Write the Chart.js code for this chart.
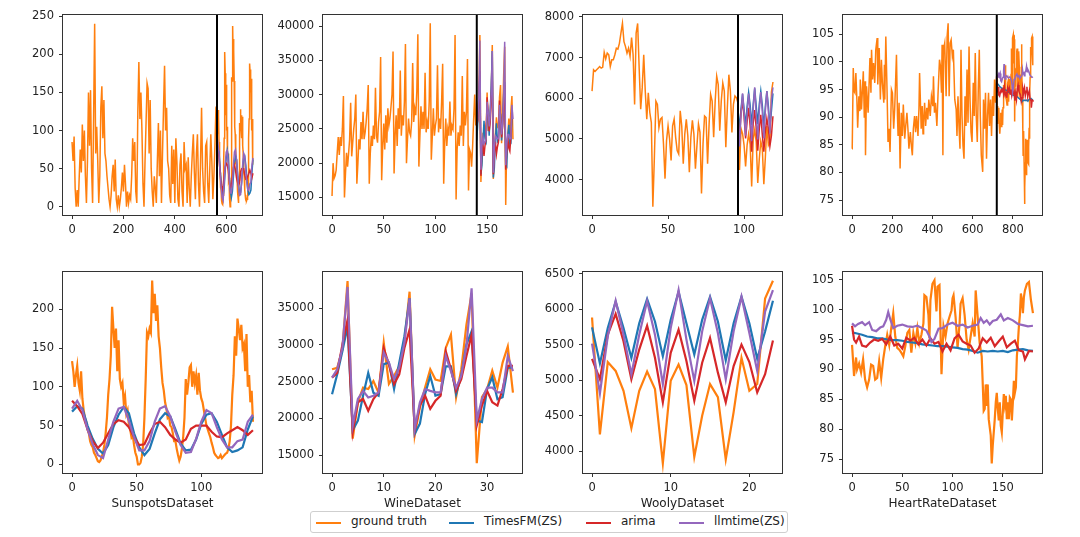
<!DOCTYPE html>
<html>
<head>
<meta charset="utf-8">
<script src="https://cdn.jsdelivr.net/npm/chart.js@4.4.1/dist/chart.umd.min.js"></script>
<style>
  body { margin: 0; background: #fff; width: 1080px; height: 537px; position: relative; overflow: hidden; font-family: "DejaVu Sans", sans-serif; }
  canvas { position: absolute; }
  #legend { position: absolute; left: 310px; top: 511px; width: 476px; height: 20px; border: 1px solid #cfcfcf; border-radius: 3px; background: #fff; font-size: 12px; color: #222; }
  #legend .ln { position: absolute; top: 10px; width: 25px; height: 0; border-top: 2px solid; }
  #legend .tx { position: absolute; top: 2px; white-space: nowrap; }
</style>
</head>
<body>
<div id="legend">
  <div class="ln" style="left:5px;border-color:#ff7f0e"></div><div class="tx" style="left:40px">ground truth</div>
  <div class="ln" style="left:138px;border-color:#1f77b4"></div><div class="tx" style="left:173px">TimesFM(ZS)</div>
  <div class="ln" style="left:275px;border-color:#d62728"></div><div class="tx" style="left:310px">arima</div>
  <div class="ln" style="left:368px;border-color:#9467bd"></div><div class="tx" style="left:403px">llmtime(ZS)</div>
</div>
<script>
// ---- Sunspots ----
const sunTrainStep = 4;
const sunTrain = [
  85,60,92,25,0,22,0,40,75,45,
  108,60,100,40,5,60,150,80,153,50,
  5,120,240,70,105,60,5,40,130,158,
  90,140,70,60,40,25,10,0,15,40,
  55,20,62,10,0,15,0,10,25,45,
  20,55,30,0,20,5,15,10,40,90,
  60,85,20,5,125,190,115,150,100,30,
  0,60,110,162,155,70,140,50,20,0,
  40,25,5,60,110,40,100,5,70,130,
  185,100,130,60,50,15,5,80,30,75,
  5,90,60,10,0,55,70,20,0,85,
  50,55,5,65,25,0,40,70,95,45,
  10,70,95,30,0,60,130,50,20,5,
  80,85,30,5,50,95,60,10,40,80,
  130
];
const sunSplit = 564;
const sunTruth = [
  133,120,100,115,127,105,95,120,85,70,
  60,55,45,40,30,25,22,15,12,8,
  4,3,5,10,15,25,40,60,90,110,
  140,203,175,150,175,120,160,110,100,105,
  80,88,65,70,50,45,35,38,25,15,
  10,0,0,2,10,25,60,110,170,165,
  175,170,237,195,220,185,205,165,150,125,
  105,95,80,72,60,62,50,48,40,30,
  30,20,12,5,10,20,35,60,110,90,
  105,125,128,100,120,105,115,90,118,95,
  85,80,70,60,50,45,40,35,28,22,
  15,12,10,8,9,12,8,10,12,14,
  15,20,30,50,90,115,165,140,188,175,
  160,180,150,155,120,168,100,115,80,95,
  55
];
const sunFcStep = 4;
const sunTimesFM = [68,75,72,50,33,20,14,25,48,64,74,66,40,22,12,20,40,58,66,62,45,27,18,19,32,52,64,66,55,38,22,16,18,22,45,62];
const sunArima   = [82,75,65,45,30,21,28,40,52,57,55,48,35,25,26,40,52,55,48,38,32,28,32,46,50,50,50,42,36,35,40,44,48,44,38,44];
const sunLlmtime = [72,82,70,45,26,12,8,32,55,72,74,56,35,18,18,30,55,72,75,62,42,25,15,16,33,55,70,66,48,32,22,22,30,32,55,64];

// ---- Wine ----
const wineTrain = [
  15200,20000,17800,18200,19000,21500,23800,21200,23800,22500,25000,29800,
  15000,18500,21500,19500,21400,23500,28800,21000,23000,25000,26500,30000,
  17000,20000,23500,22000,26000,23500,27500,23500,24500,26000,28000,31400,
  17000,21500,24000,22500,25500,23500,31000,24000,23000,26000,27500,35500,
  17500,22500,25800,22000,27000,23000,28000,25500,26500,28200,30000,36300,
  18500,24000,27000,22500,28000,25000,33500,24000,27000,25500,29000,37400,
  20000,23500,26500,24500,24000,26000,34600,26000,28000,27000,30500,38800,
  19500,24000,28300,25000,27500,25000,33200,24500,26000,25000,29000,40400,
  20500,24000,28000,24000,25500,26500,34300,24500,26500,25000,29000,34500,
  17000,23000,26500,22500,25000,24000,29000,24000,25500,25000,28000,38700,
  14700,22000,24500,22500,25500,24000,32700,22500,27500,25500,27500,35200,
  16000,22000,21500,19500,22500,26500,30000,25500
];
const wineSplit = 140;
const wineTruth   = [26700,26900,29400,38700,17250,22200,24200,24000,25100,23500,30300,24700,25800,27100,30500,37250,17700,21500,24200,26700,25300,25100,29600,31400,22900,26700,32750,37000,13900,22900,24000,26500,24200,27600,29800,23500];
const wineTimesFM = [23300,26000,29150,32500,18400,19700,23100,26200,23500,23100,27400,27600,24000,27600,31200,36350,17900,19300,23300,25800,23100,23300,27100,27100,23300,25800,30050,31850,19700,19500,24000,25600,22600,22900,26900,26900];
const wineArima   = [25550,26200,30050,33400,18150,22200,22650,21050,22650,23550,29600,27350,24650,26000,29600,32100,18400,21750,23100,21300,22400,23100,29150,26700,23750,25350,28500,31400,19050,21750,23750,22200,21750,24000,27150,27150];
const wineLlmtime = [25550,26700,29600,37900,19050,22650,23750,22850,23100,23550,28950,27600,25350,26900,30300,36350,18600,22200,24000,23750,23550,23550,28500,26450,24200,25800,29850,37700,19700,22650,24200,24200,23550,23550,28500,26450];

// ---- Wooly ----
const woolyTrain = [
  6175,6700,6660,6700,6740,6780,6740,6760,7130,6970,
  7110,7070,6780,6945,6945,7070,7230,7210,7350,7600,
  7840,7390,7270,7110,7230,7030,7490,7070,5850,7600,
  7840,6740,5730,6255,7070,6175,5485,6135,5650,5400,
  3335,4550,5930,5850,5280,5485,5525,4875,4025,4960,
  5320,5000,4470,5320,5485,5040,4715,4630,5690,5320,
  4390,5120,5485,5080,4185,5040,5460,5120,4270,4835,
  5365,5160,3660,4875,5565,5525,4390,5365,6095,5930,
  5040,5930,6540,6335,5200,5930,6375,6175,4795,5770,
  6580,6175,5160,5850,6055,6010
];
const woolySplit = 96;
const woolyTruth   = [5882,4237,5255,5130,4850,4325,4850,5120,4875,3830,4990,5220,4930,3920,4500,4945,4760,3885,4550,5315,4850,4945,6150,6400];
const woolyTimesFM = [5743,5236,5733,6105,5733,5315,5800,6142,5826,5338,5850,6245,5800,5362,5850,6175,5826,5280,5800,6175,5800,5300,5687,6119];
const woolyArima   = [5300,5013,5640,5933,5547,5013,5431,5766,5315,4688,5385,5710,5269,4710,5245,5594,5106,4688,5199,5501,5255,4827,5083,5557];
const woolyLlmtime = [5515,4813,5617,6119,5640,5083,5640,6114,5640,4943,5733,6268,5571,4990,5687,6152,5664,5013,5687,6175,5664,5129,5966,6268];

// ---- HeartRate ----
const heartTrainX = [
  0,1,6,10,14,19,24,28,34,39,41,47,56,61,65,67,72,80,89,94,97,102,107,113,118,125,128,135,141,146,151,155,158,161,163,168,174,179,184,189,196,201,207,212,221,226,229,234,239,245,250,255,262,267,273,278,283,290,295,300,305,311,316,321,328,333,
  336,344,349,353,356,361,366,372,377,382,389,395,402,405,410,415,422,428,435,440,445,448,452,455,461,468,473,478,483,488,493,499,504,511,518,522,527,532,537,542,547,552,557,562,567,572,577,582,587,592,597,603,608,613,618,623,628,633,638,643,650,654,659,664,669,674,679,684,689,694,699,704,709,714,719
];
const heartTrain = [
  84.3,84.6,98.9,94.7,94.4,98.0,93.2,88.1,93.8,91.1,96.8,91.4,98.3,89.9,96.5,83.1,95.6,90.8,100.7,94.4,102.2,96.8,99.8,96.2,102.2,104.3,95.9,102.5,93.2,100.4,96.2,94.1,92.6,99.5,93.2,104.6,95.0,85.5,87.9,83.7,95.0,94.4,87.9,91.4,101.3,90.2,86.6,92.6,80.7,90.8,86.6,92.3,86.1,88.4,90.8,87.9,84.3,87.3,84.9,83.1,87.9,90.2,87.3,90.2,86.6,91.7,
  98.0,87.9,92.0,87.0,89.0,92.6,88.4,91.7,89.6,93.2,90.2,93.8,92.0,97.4,90.8,92.6,88.4,94.4,100.4,99.2,94.4,103.1,83.1,102.2,103.4,93.8,104.6,107.0,93.8,103.4,104.0,101.0,102.2,93.2,91.4,86.6,93.8,88.4,84.3,102.2,90.2,84.9,82.5,93.8,88.4,98.6,89.0,102.8,93.2,87.3,85.5,96.2,90.2,101.6,90.2,85.5,95.0,102.2,90.2,83.1,80.1,93.2,87.9,94.4,82.5,90.2,94.4,88.4,93.2,86.6,93.8,90.2,96.8,92.6,97.4
];
const heartSplit = 720;
const heartTruthX = [0,2,4,5,7,9,11,13,15,17,19,21,23,25,27,29,31,33,35,37,39,41,43,45,47,49,51,53,55,57,59,61,63,65,67,69,71,72,74,76,77,78,80,82,84,85,87,89,91,93,95,97,99,100,101,103,105,107,108,110,112,114,116,118,120,122,123,125,127,129,130,131,132,133,134,135,136,138,139,140,142,143,144,145,146,147,148,149,150,151,152,153,154,155,156,157,158,159,160,161,162,163,164,165,166,167,168,169,170,171,172,174,176,178,180];
const heartTruth  = [94.1,88.9,92,90,91,89.5,91.7,88.3,87,88.3,90.8,90.6,88.3,88.6,91.4,88.6,91.7,93.9,95.8,94.1,96.9,99.4,95.5,93.6,93.3,92.8,92.2,93.9,96.1,96.6,92.8,96.1,94.4,96.9,94.4,95.8,97.7,102.4,102.1,99.1,95.2,101.6,104.3,104.9,99.7,103.8,104.1,89.2,97.2,95.5,97.7,98.8,99.9,101.9,102.4,98.8,93.6,97.7,101,101.9,99.1,95,93.3,95.5,97.7,95.5,103.2,98.8,94.4,92.2,87.8,83.1,83.4,87.5,83.9,87.5,81.7,79,74.3,77.3,81.7,84.5,86.1,83.4,81.5,84.5,80.6,79.5,82.8,85.9,84.2,85.6,81.7,84.5,81.7,85.3,85,81.5,84.5,88.1,86.1,87,92.2,94.4,97.2,99.1,102.7,101.6,99.4,102.1,103.2,104.3,104.6,101.6,99.4];
const heartTimesFMStep = 5;
const heartTimesFM = [96.2,96.0,95.8,95.5,95.4,95.2,95.2,95.0,94.9,94.9,94.8,94.6,94.5,94.4,94.2,94.1,94.0,93.9,93.9,93.8,93.7,93.6,93.4,93.3,93.1,92.8,93.1,93.0,93.1,93.0,93.1,92.9,93.2,93.3,93.4,93.2,93.1];
const heartArimaX = [0,2,4,7,10,14,18,22,26,30,34,38,42,46,50,54,58,62,66,70,74,78,82,86,90,94,98,102,106,110,114,118,122,126,130,134,138,142,146,150,154,158,162,166,170,172,176,180];
const heartArima  = [97.3,95.0,94.5,95.5,94.0,93.8,94.5,95.0,94.8,95.1,94.2,95.5,94.0,94.3,93.5,95.3,94.8,95.3,94.2,95.0,94.0,95.2,94.3,94.6,93.0,94.3,93.2,95.2,95.8,94.7,94.3,94.0,92.8,93.5,95.2,94.5,95.3,93.9,94.7,95.5,93.7,94.3,94.8,93.2,93.0,91.7,93.1,93.0];
const heartLlmtimeX = [0,3,6,10,13,17,20,24,28,31,34,36,38,41,45,50,55,60,65,70,74,77,79,82,86,90,95,100,105,110,115,120,125,128,131,134,137,140,144,148,151,155,160,165,170,175,180];
const heartLlmtime  = [97.7,97.2,97.6,97.9,97.4,97.9,96.6,96.4,97.0,97.2,98.3,99.6,98.4,96.9,97.3,97.5,97.2,97.1,97.3,96.9,96.5,95.5,94.6,95.1,96.8,96.9,97.5,97.8,97.3,97.5,97.0,97.3,97.5,98.6,97.8,98.2,97.5,98.1,98.3,99.2,98.2,98.6,98.2,97.6,97.4,97.2,97.3];

// ---- helpers ----
const C = { truth: '#ff7f0e', timesfm: '#1f77b4', arima: '#d62728', llmtime: '#9467bd' };
const idx = (n, step = 1) => Array.from({ length: n }, (_, i) => i * step);
const pts = (xs, ys, shift = 0) => ys.map((y, i) => ({ x: xs[i] + shift, y }));

// spines on all four sides + the train/test split marker
const frame = {
  id: 'frame',
  afterDatasetsDraw(chart, args, opts) {
    const { ctx, chartArea: a } = chart;
    ctx.save();
    if (opts.split != null) {
      const x = chart.scales.x.getPixelForValue(opts.split);
      ctx.strokeStyle = '#000';
      ctx.lineWidth = 2;
      ctx.beginPath();
      ctx.moveTo(x, a.top);
      ctx.lineTo(x, a.bottom);
      ctx.stroke();
    }
    ctx.strokeStyle = '#333';
    ctx.lineWidth = 1;
    ctx.strokeRect(Math.round(a.left) - 0.5, Math.round(a.top) - 0.5, Math.round(a.right - a.left) + 1, Math.round(a.bottom - a.top) + 1);
    ctx.restore();
  }
};

const PT = 10, PR = 12, YW = 60, PW = 199;
const tickFont = { family: 'DejaVu Sans', size: 11.5 };

function makeChart(c) {
  const xH = c.title ? 42 : 24;
  const cv = document.createElement('canvas');
  cv.width = YW + PW + PR;
  cv.height = PT + c.ph + xH;
  cv.style.left = (c.left - YW) + 'px';
  cv.style.top = (c.top - PT) + 'px';
  document.body.appendChild(cv);

  const axis = (min, max, vals, fit) => ({
    type: 'linear', min, max,
    afterBuildTicks: ax => { ax.ticks = vals.map(v => ({ value: v })); },
    afterFit: fit,
    ticks: { color: '#222', font: tickFont, padding: 4, autoSkip: false, maxRotation: 0, callback: v => String(v) },
    grid: { drawOnChartArea: false, drawTicks: true, tickLength: 4, color: '#333' },
    border: { display: false }
  });
  const x = axis(c.xr[0], c.xr[1], c.xt, s => { s.height = xH; });
  x.title = { display: !!c.title, text: c.title || '', color: '#222', font: { family: 'DejaVu Sans', size: 12 }, padding: { top: 4, bottom: 4 } };
  const y = axis(c.yr[0], c.yr[1], c.yt, s => { s.width = YW; });
  y.ticks.padding = 5;

  new Chart(cv, {
    type: 'line',
    data: {
      datasets: c.series.map((s, i) => ({
        data: s.data, borderColor: s.color, borderWidth: c.lw,
        pointRadius: 0, fill: false, tension: 0, order: c.series.length - i
      }))
    },
    options: {
      responsive: false, animation: false, events: [],
      layout: { padding: { top: PT, right: PR, left: 0, bottom: 0 } },
      plugins: { legend: { display: false }, tooltip: { enabled: false }, frame: { split: c.split } },
      scales: { x, y }
    },
    plugins: [frame]
  });
}

const tops = [13, 270], heights = [202, 203];
const lefts = [63, 323, 583, 843];

// top row: full history + forecasts
makeChart({ left: lefts[0], top: tops[0], ph: heights[0], lw: 1.5, split: sunSplit,
  xr: [-35.2, 739.2], yr: [-10.8, 251.7], xt: [0, 200, 400, 600], yt: [0, 50, 100, 150, 200, 250],
  series: [
    { color: C.truth, data: pts(idx(sunTrain.length, sunTrainStep), sunTrain).concat(pts(idx(sunTruth.length), sunTruth, sunSplit)) },
    { color: C.timesfm, data: pts(idx(sunTimesFM.length, sunFcStep), sunTimesFM, sunSplit) },
    { color: C.arima, data: pts(idx(sunArima.length, sunFcStep), sunArima, sunSplit) },
    { color: C.llmtime, data: pts(idx(sunLlmtime.length, sunFcStep), sunLlmtime, sunSplit) }
  ] });

makeChart({ left: lefts[1], top: tops[0], ph: heights[0], lw: 1.5, split: wineSplit,
  xr: [-8.75, 183.75], yr: [12440, 41630], xt: [0, 50, 100, 150], yt: [15000, 20000, 25000, 30000, 35000, 40000],
  series: [
    { color: C.truth, data: pts(idx(wineTrain.length), wineTrain).concat(pts(idx(wineTruth.length), wineTruth, wineSplit)) },
    { color: C.timesfm, data: pts(idx(wineTimesFM.length), wineTimesFM, wineSplit) },
    { color: C.arima, data: pts(idx(wineArima.length), wineArima, wineSplit) },
    { color: C.llmtime, data: pts(idx(wineLlmtime.length), wineLlmtime, wineSplit) }
  ] });

makeChart({ left: lefts[2], top: tops[0], ph: heights[0], lw: 1.5, split: woolySplit,
  xr: [-5.95, 124.95], yr: [3131, 8049], xt: [0, 50, 100], yt: [4000, 5000, 6000, 7000, 8000],
  series: [
    { color: C.truth, data: pts(idx(woolyTrain.length), woolyTrain).concat(pts(idx(woolyTruth.length), woolyTruth, woolySplit)) },
    { color: C.timesfm, data: pts(idx(woolyTimesFM.length), woolyTimesFM, woolySplit) },
    { color: C.arima, data: pts(idx(woolyArima.length), woolyArima, woolySplit) },
    { color: C.llmtime, data: pts(idx(woolyLlmtime.length), woolyLlmtime, woolySplit) }
  ] });

makeChart({ left: lefts[3], top: tops[0], ph: heights[0], lw: 1.5, split: heartSplit,
  xr: [-45, 945], yr: [72.3, 108.5], xt: [0, 200, 400, 600, 800], yt: [75, 80, 85, 90, 95, 100, 105],
  series: [
    { color: C.truth, data: pts(heartTrainX, heartTrain).concat(pts(heartTruthX, heartTruth, heartSplit)) },
    { color: C.timesfm, data: pts(idx(heartTimesFM.length, heartTimesFMStep), heartTimesFM, heartSplit) },
    { color: C.arima, data: pts(heartArimaX, heartArima, heartSplit) },
    { color: C.llmtime, data: pts(heartLlmtimeX, heartLlmtime, heartSplit) }
  ] });

// bottom row: forecast window only
makeChart({ left: lefts[0], top: tops[1], ph: heights[1], lw: 2.2, title: 'SunspotsDataset',
  xr: [-7, 147], yr: [-11.1, 248.1], xt: [0, 50, 100], yt: [0, 50, 100, 150, 200],
  series: [
    { color: C.truth, data: pts(idx(sunTruth.length), sunTruth) },
    { color: C.timesfm, data: pts(idx(sunTimesFM.length, sunFcStep), sunTimesFM) },
    { color: C.arima, data: pts(idx(sunArima.length, sunFcStep), sunArima) },
    { color: C.llmtime, data: pts(idx(sunLlmtime.length, sunFcStep), sunLlmtime) }
  ] });

makeChart({ left: lefts[1], top: tops[1], ph: heights[1], lw: 2.2, title: 'WineDataset',
  xr: [-1.75, 36.75], yr: [12573, 39948], xt: [0, 10, 20, 30], yt: [15000, 20000, 25000, 30000, 35000],
  series: [
    { color: C.truth, data: pts(idx(wineTruth.length), wineTruth) },
    { color: C.timesfm, data: pts(idx(wineTimesFM.length), wineTimesFM) },
    { color: C.arima, data: pts(idx(wineArima.length), wineArima) },
    { color: C.llmtime, data: pts(idx(wineLlmtime.length), wineLlmtime) }
  ] });

makeChart({ left: lefts[2], top: tops[1], ph: heights[1], lw: 2.2, title: 'WoolyDataset',
  xr: [-1.15, 24.15], yr: [3693, 6524], xt: [0, 10, 20], yt: [4000, 4500, 5000, 5500, 6000, 6500],
  series: [
    { color: C.truth, data: pts(idx(woolyTruth.length), woolyTruth) },
    { color: C.timesfm, data: pts(idx(woolyTimesFM.length), woolyTimesFM) },
    { color: C.arima, data: pts(idx(woolyArima.length), woolyArima) },
    { color: C.llmtime, data: pts(idx(woolyLlmtime.length), woolyLlmtime) }
  ] });

makeChart({ left: lefts[3], top: tops[1], ph: heights[1], lw: 2.2, title: 'HeartRateDataset',
  xr: [-9, 189], yr: [72.7, 106.3], xt: [0, 50, 100, 150], yt: [75, 80, 85, 90, 95, 100, 105],
  series: [
    { color: C.truth, data: pts(heartTruthX, heartTruth) },
    { color: C.timesfm, data: pts(idx(heartTimesFM.length, heartTimesFMStep), heartTimesFM) },
    { color: C.arima, data: pts(heartArimaX, heartArima) },
    { color: C.llmtime, data: pts(heartLlmtimeX, heartLlmtime) }
  ] });
</script>
</body>
</html>
